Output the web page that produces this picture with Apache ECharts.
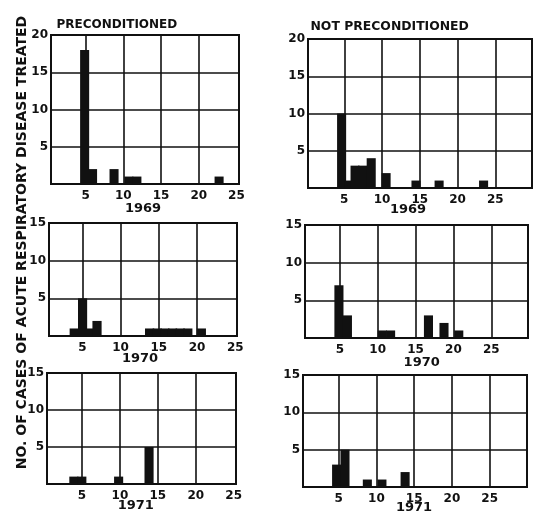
<!DOCTYPE html>
<html><head><meta charset="utf-8">
<script src="https://cdn.jsdelivr.net/npm/echarts@6/dist/echarts.min.js"></script>
<style>html,body{margin:0;padding:0;background:#fff}#c{width:535px;height:526px}</style>
</head><body><div id="c"></div>
<script>
// ---- data (day of bar centre, number of cases) ----
const p1969PreDays   = [4.87, 5.92, 8.77, 10.73, 11.8, 22.7];
const p1969PreCases  = [18, 2, 2, 1, 1, 1];
const p1969NotDays   = [4.65, 5.6, 6.43, 7.42, 8.57, 10.54, 14.5, 17.56, 23.45];
const p1969NotCases  = [10, 1, 3, 3, 4, 2, 1, 1, 1];
const p1970PreDays   = [3.94, 5.03, 5.95, 6.92, 13.8, 14.8, 15.8, 16.8, 17.8, 18.8, 20.57];
const p1970PreCases  = [1, 5, 1, 2, 1, 1, 1, 1, 1, 1, 1];
const p1970NotDays   = [4.88, 6.0, 10.6, 11.7, 16.7, 18.75, 20.7];
const p1970NotCases  = [7, 3, 1, 1, 3, 2, 1];
const p1971PreDays   = [3.93, 4.98, 9.83, 13.84];
const p1971PreCases  = [1, 1, 1, 5];
const p1971NotDays   = [4.73, 5.84, 8.8, 10.73, 13.8];
const p1971NotCases  = [3, 5, 1, 1, 2];

const xTickLabels = [5, 10, 15, 20, 25];
const leftGridX   = [5, 10, 15, 20];
const rightGridX  = [5, 10, 15, 20, 25];
const yTicks20    = [5, 10, 15, 20];
const yTicks15    = [5, 10, 15];
const years       = ['1969', '1969', '1970', '1970', '1971', '1971'];
const titleLeft   = 'PRECONDITIONED';
const titleRight  = 'NOT PRECONDITIONED';
const yTitle      = 'NO. OF CASES OF ACUTE RESPIRATORY DISEASE TREATED';

// ---- layout ----
const FONT = 'DejaVu Sans';
const INK = '#111';
const BAR_W = 1.2;
const panels = [
  {grid:{left:51, top:35, width:188, height:149}, xMin:0.41, xMax:25.34, yMax:20, yT:yTicks20, gx:leftGridX,  days:p1969PreDays, cases:p1969PreCases},
  {grid:{left:308,top:39, width:224, height:149}, xMin:0.2,  xMax:29.86, yMax:20, yT:yTicks20, gx:rightGridX, days:p1969NotDays, cases:p1969NotCases},
  {grid:{left:49, top:223,width:188, height:113}, xMin:0.64, xMax:25.23, yMax:15, yT:yTicks15, gx:leftGridX,  days:p1970PreDays, cases:p1970PreCases},
  {grid:{left:305,top:225,width:223, height:113}, xMin:0.4,  xMax:29.84, yMax:15, yT:yTicks15, gx:rightGridX, days:p1970NotDays, cases:p1970NotCases},
  {grid:{left:47, top:373,width:189, height:111}, xMin:0.39, xMax:25.3,  yMax:15, yT:yTicks15, gx:leftGridX,  days:p1971PreDays, cases:p1971PreCases},
  {grid:{left:303,top:375,width:224, height:112}, xMin:0.28, xMax:29.94, yMax:15, yT:yTicks15, gx:rightGridX, days:p1971NotDays, cases:p1971NotCases}
];
const yearPos = [[143,209],[408,209.5],[140,359],[421.7,362.5],[135.8,505.8],[414,507.8]];

const option = {
  animation:false,
  backgroundColor:'#fff',
  grid: panels.map(p => Object.assign({show:true, borderColor:INK, borderWidth:2, backgroundColor:'transparent'}, p.grid)),
  xAxis: panels.map((p,i) => ({
    type:'value', gridIndex:i, min:p.xMin, max:p.xMax,
    axisLine:{show:false},
    axisTick:{show:false, customValues:p.gx},
    axisLabel:{customValues:xTickLabels, color:INK, fontFamily:FONT, fontWeight:'bold', fontSize:12, margin:6},
    splitLine:{show:true, lineStyle:{color:INK, width:1.6}}
  })),
  yAxis: panels.map((p,i) => ({
    type:'value', gridIndex:i, min:0, max:p.yMax, interval:5,
    axisLine:{show:false}, axisTick:{show:false},
    axisLabel:{color:INK, fontFamily:FONT, fontWeight:'bold', fontSize:12, margin:3,
      formatter: v => p.yT.indexOf(v) >= 0 ? String(v) : ''},
    splitLine:{show:true, lineStyle:{color:INK, width:1.6}}
  })),
  series: panels.map((p,i) => ({
    type:'custom', xAxisIndex:i, yAxisIndex:i,
    data: p.days.map((d,k) => [d, p.cases[k]]),
    encode:{x:0, y:1},
    renderItem:(params, api) => {
      const x = api.value(0), y = api.value(1);
      const a = api.coord([x - BAR_W/2, y]);
      const b = api.coord([x + BAR_W/2, 0]);
      return {type:'rect', shape:{x:a[0], y:a[1], width:b[0]-a[0], height:b[1]-a[1]}, style:{fill:INK}};
    }
  })),
  graphic: [
    {type:'text', x:56.5, y:25, style:{text:titleLeft, fill:INK, font:'bold 12px "DejaVu Sans"', textAlign:'left', textVerticalAlign:'middle'}},
    {type:'text', x:310.5, y:27, style:{text:titleRight, fill:INK, font:'bold 12.4px "DejaVu Sans"', textAlign:'left', textVerticalAlign:'middle'}},
    {type:'text', x:22, y:242.5, rotation:Math.PI/2, style:{text:yTitle, fill:INK, font:'bold 14px "DejaVu Sans"', textAlign:'center', textVerticalAlign:'middle'}}
  ].concat(years.map((t,i) => ({type:'text', x:yearPos[i][0], y:yearPos[i][1],
      style:{text:t, fill:INK, font:'bold 13px "DejaVu Sans"', textAlign:'center', textVerticalAlign:'middle'}})))
};
echarts.init(document.getElementById('c'), null, {renderer:'canvas'}).setOption(option);
</script></body></html>
